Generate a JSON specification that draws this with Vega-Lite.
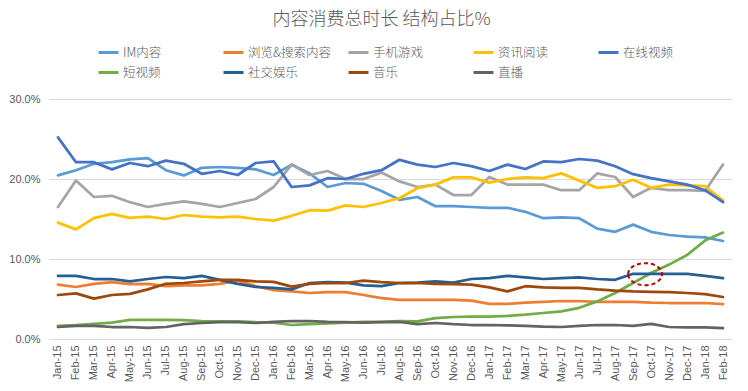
{
"$schema":"https://vega.github.io/schema/vega-lite/v6.json",
"width":683,"height":240,
"autosize":{"type":"none"},
"padding":{"left":49,"top":99,"right":16,"bottom":52},
"background":"white",
"title":{"text":"内容消费总时长 结构占比%","font":"Noto Sans CJK SC","fontSize":18,"fontWeight":300,"color":"#595959","anchor":"middle","frame":"group","offset":12,"dx":-9},
"config":{"view":{"stroke":null},"font":"Noto Sans CJK SC"},
"layer":[
{"data":{"values":[
{"month":"Jan-15","series":"IM内容","value":20.45},{"month":"Feb-15","series":"IM内容","value":21.1},{"month":"Mar-15","series":"IM内容","value":21.9},{"month":"Apr-15","series":"IM内容","value":22.1},{"month":"May-15","series":"IM内容","value":22.45},{"month":"Jun-15","series":"IM内容","value":22.6},{"month":"Jul-15","series":"IM内容","value":21.1},{"month":"Aug-15","series":"IM内容","value":20.45},{"month":"Sep-15","series":"IM内容","value":21.4},{"month":"Oct-15","series":"IM内容","value":21.5},{"month":"Nov-15","series":"IM内容","value":21.4},{"month":"Dec-15","series":"IM内容","value":21.2},{"month":"Jan-16","series":"IM内容","value":20.5},{"month":"Feb-16","series":"IM内容","value":21.8},{"month":"Mar-16","series":"IM内容","value":20.7},{"month":"Apr-16","series":"IM内容","value":19.0},{"month":"May-16","series":"IM内容","value":19.5},{"month":"Jun-16","series":"IM内容","value":19.4},{"month":"Jul-16","series":"IM内容","value":18.5},{"month":"Aug-16","series":"IM内容","value":17.4},{"month":"Sep-16","series":"IM内容","value":17.75},{"month":"Oct-16","series":"IM内容","value":16.6},{"month":"Nov-16","series":"IM内容","value":16.6},{"month":"Dec-16","series":"IM内容","value":16.5},{"month":"Jan-17","series":"IM内容","value":16.4},{"month":"Feb-17","series":"IM内容","value":16.4},{"month":"Mar-17","series":"IM内容","value":15.9},{"month":"Apr-17","series":"IM内容","value":15.1},{"month":"May-17","series":"IM内容","value":15.2},{"month":"Jun-17","series":"IM内容","value":15.1},{"month":"Jul-17","series":"IM内容","value":13.8},{"month":"Aug-17","series":"IM内容","value":13.4},{"month":"Sep-17","series":"IM内容","value":14.3},{"month":"Oct-17","series":"IM内容","value":13.4},{"month":"Nov-17","series":"IM内容","value":13.0},{"month":"Dec-17","series":"IM内容","value":12.8},{"month":"Jan-18","series":"IM内容","value":12.7},{"month":"Feb-18","series":"IM内容","value":12.25},
{"month":"Jan-15","series":"浏览&搜索内容","value":6.8},{"month":"Feb-15","series":"浏览&搜索内容","value":6.5},{"month":"Mar-15","series":"浏览&搜索内容","value":6.9},{"month":"Apr-15","series":"浏览&搜索内容","value":7.1},{"month":"May-15","series":"浏览&搜索内容","value":6.85},{"month":"Jun-15","series":"浏览&搜索内容","value":6.9},{"month":"Jul-15","series":"浏览&搜索内容","value":6.6},{"month":"Aug-15","series":"浏览&搜索内容","value":6.7},{"month":"Sep-15","series":"浏览&搜索内容","value":6.7},{"month":"Oct-15","series":"浏览&搜索内容","value":6.9},{"month":"Nov-15","series":"浏览&搜索内容","value":7.3},{"month":"Dec-15","series":"浏览&搜索内容","value":6.6},{"month":"Jan-16","series":"浏览&搜索内容","value":6.1},{"month":"Feb-16","series":"浏览&搜索内容","value":5.95},{"month":"Mar-16","series":"浏览&搜索内容","value":5.75},{"month":"Apr-16","series":"浏览&搜索内容","value":5.85},{"month":"May-16","series":"浏览&搜索内容","value":5.85},{"month":"Jun-16","series":"浏览&搜索内容","value":5.5},{"month":"Jul-16","series":"浏览&搜索内容","value":5.1},{"month":"Aug-16","series":"浏览&搜索内容","value":4.9},{"month":"Sep-16","series":"浏览&搜索内容","value":4.9},{"month":"Oct-16","series":"浏览&搜索内容","value":4.9},{"month":"Nov-16","series":"浏览&搜索内容","value":4.9},{"month":"Dec-16","series":"浏览&搜索内容","value":4.8},{"month":"Jan-17","series":"浏览&搜索内容","value":4.4},{"month":"Feb-17","series":"浏览&搜索内容","value":4.4},{"month":"Mar-17","series":"浏览&搜索内容","value":4.55},{"month":"Apr-17","series":"浏览&搜索内容","value":4.65},{"month":"May-17","series":"浏览&搜索内容","value":4.75},{"month":"Jun-17","series":"浏览&搜索内容","value":4.75},{"month":"Jul-17","series":"浏览&搜索内容","value":4.65},{"month":"Aug-17","series":"浏览&搜索内容","value":4.65},{"month":"Sep-17","series":"浏览&搜索内容","value":4.65},{"month":"Oct-17","series":"浏览&搜索内容","value":4.55},{"month":"Nov-17","series":"浏览&搜索内容","value":4.5},{"month":"Dec-17","series":"浏览&搜索内容","value":4.5},{"month":"Jan-18","series":"浏览&搜索内容","value":4.5},{"month":"Feb-18","series":"浏览&搜索内容","value":4.35},
{"month":"Jan-15","series":"手机游戏","value":16.5},{"month":"Feb-15","series":"手机游戏","value":19.8},{"month":"Mar-15","series":"手机游戏","value":17.75},{"month":"Apr-15","series":"手机游戏","value":17.9},{"month":"May-15","series":"手机游戏","value":17.1},{"month":"Jun-15","series":"手机游戏","value":16.5},{"month":"Jul-15","series":"手机游戏","value":16.9},{"month":"Aug-15","series":"手机游戏","value":17.2},{"month":"Sep-15","series":"手机游戏","value":16.9},{"month":"Oct-15","series":"手机游戏","value":16.5},{"month":"Nov-15","series":"手机游戏","value":17.0},{"month":"Dec-15","series":"手机游戏","value":17.5},{"month":"Jan-16","series":"手机游戏","value":19.0},{"month":"Feb-16","series":"手机游戏","value":21.8},{"month":"Mar-16","series":"手机游戏","value":20.5},{"month":"Apr-16","series":"手机游戏","value":21.0},{"month":"May-16","series":"手机游戏","value":20.0},{"month":"Jun-16","series":"手机游戏","value":20.0},{"month":"Jul-16","series":"手机游戏","value":20.8},{"month":"Aug-16","series":"手机游戏","value":19.7},{"month":"Sep-16","series":"手机游戏","value":19.0},{"month":"Oct-16","series":"手机游戏","value":19.3},{"month":"Nov-16","series":"手机游戏","value":18.0},{"month":"Dec-16","series":"手机游戏","value":18.0},{"month":"Jan-17","series":"手机游戏","value":20.25},{"month":"Feb-17","series":"手机游戏","value":19.3},{"month":"Mar-17","series":"手机游戏","value":19.3},{"month":"Apr-17","series":"手机游戏","value":19.3},{"month":"May-17","series":"手机游戏","value":18.6},{"month":"Jun-17","series":"手机游戏","value":18.6},{"month":"Jul-17","series":"手机游戏","value":20.7},{"month":"Aug-17","series":"手机游戏","value":20.25},{"month":"Sep-17","series":"手机游戏","value":17.75},{"month":"Oct-17","series":"手机游戏","value":18.9},{"month":"Nov-17","series":"手机游戏","value":18.6},{"month":"Dec-17","series":"手机游戏","value":18.6},{"month":"Jan-18","series":"手机游戏","value":18.5},{"month":"Feb-18","series":"手机游戏","value":21.8},
{"month":"Jan-15","series":"资讯阅读","value":14.55},{"month":"Feb-15","series":"资讯阅读","value":13.7},{"month":"Mar-15","series":"资讯阅读","value":15.1},{"month":"Apr-15","series":"资讯阅读","value":15.65},{"month":"May-15","series":"资讯阅读","value":15.15},{"month":"Jun-15","series":"资讯阅读","value":15.3},{"month":"Jul-15","series":"资讯阅读","value":15.0},{"month":"Aug-15","series":"资讯阅读","value":15.5},{"month":"Sep-15","series":"资讯阅读","value":15.3},{"month":"Oct-15","series":"资讯阅读","value":15.2},{"month":"Nov-15","series":"资讯阅读","value":15.3},{"month":"Dec-15","series":"资讯阅读","value":15.0},{"month":"Jan-16","series":"资讯阅读","value":14.8},{"month":"Feb-16","series":"资讯阅读","value":15.4},{"month":"Mar-16","series":"资讯阅读","value":16.1},{"month":"Apr-16","series":"资讯阅读","value":16.05},{"month":"May-16","series":"资讯阅读","value":16.7},{"month":"Jun-16","series":"资讯阅读","value":16.5},{"month":"Jul-16","series":"资讯阅读","value":17.0},{"month":"Aug-16","series":"资讯阅读","value":17.6},{"month":"Sep-16","series":"资讯阅读","value":18.85},{"month":"Oct-16","series":"资讯阅读","value":19.3},{"month":"Nov-16","series":"资讯阅读","value":20.2},{"month":"Dec-16","series":"资讯阅读","value":20.2},{"month":"Jan-17","series":"资讯阅读","value":19.55},{"month":"Feb-17","series":"资讯阅读","value":20.0},{"month":"Mar-17","series":"资讯阅读","value":20.2},{"month":"Apr-17","series":"资讯阅读","value":20.1},{"month":"May-17","series":"资讯阅读","value":20.7},{"month":"Jun-17","series":"资讯阅读","value":19.8},{"month":"Jul-17","series":"资讯阅读","value":18.9},{"month":"Aug-17","series":"资讯阅读","value":19.1},{"month":"Sep-17","series":"资讯阅读","value":19.9},{"month":"Oct-17","series":"资讯阅读","value":18.9},{"month":"Nov-17","series":"资讯阅读","value":19.3},{"month":"Dec-17","series":"资讯阅读","value":19.2},{"month":"Jan-18","series":"资讯阅读","value":19.1},{"month":"Feb-18","series":"资讯阅读","value":17.3},
{"month":"Jan-15","series":"在线视频","value":25.2},{"month":"Feb-15","series":"在线视频","value":22.1},{"month":"Mar-15","series":"在线视频","value":22.1},{"month":"Apr-15","series":"在线视频","value":21.2},{"month":"May-15","series":"在线视频","value":22.0},{"month":"Jun-15","series":"在线视频","value":21.6},{"month":"Jul-15","series":"在线视频","value":22.3},{"month":"Aug-15","series":"在线视频","value":21.9},{"month":"Sep-15","series":"在线视频","value":20.65},{"month":"Oct-15","series":"在线视频","value":21.0},{"month":"Nov-15","series":"在线视频","value":20.5},{"month":"Dec-15","series":"在线视频","value":22.0},{"month":"Jan-16","series":"在线视频","value":22.2},{"month":"Feb-16","series":"在线视频","value":19.0},{"month":"Mar-16","series":"在线视频","value":19.2},{"month":"Apr-16","series":"在线视频","value":20.1},{"month":"May-16","series":"在线视频","value":20.0},{"month":"Jun-16","series":"在线视频","value":20.65},{"month":"Jul-16","series":"在线视频","value":21.1},{"month":"Aug-16","series":"在线视频","value":22.4},{"month":"Sep-16","series":"在线视频","value":21.8},{"month":"Oct-16","series":"在线视频","value":21.5},{"month":"Nov-16","series":"在线视频","value":22.0},{"month":"Dec-16","series":"在线视频","value":21.6},{"month":"Jan-17","series":"在线视频","value":21.0},{"month":"Feb-17","series":"在线视频","value":21.8},{"month":"Mar-17","series":"在线视频","value":21.25},{"month":"Apr-17","series":"在线视频","value":22.2},{"month":"May-17","series":"在线视频","value":22.1},{"month":"Jun-17","series":"在线视频","value":22.5},{"month":"Jul-17","series":"在线视频","value":22.3},{"month":"Aug-17","series":"在线视频","value":21.6},{"month":"Sep-17","series":"在线视频","value":20.6},{"month":"Oct-17","series":"在线视频","value":20.1},{"month":"Nov-17","series":"在线视频","value":19.7},{"month":"Dec-17","series":"在线视频","value":19.3},{"month":"Jan-18","series":"在线视频","value":18.6},{"month":"Feb-18","series":"在线视频","value":17.1},
{"month":"Jan-15","series":"短视频","value":1.65},{"month":"Feb-15","series":"短视频","value":1.75},{"month":"Mar-15","series":"短视频","value":1.9},{"month":"Apr-15","series":"短视频","value":2.05},{"month":"May-15","series":"短视频","value":2.4},{"month":"Jun-15","series":"短视频","value":2.4},{"month":"Jul-15","series":"短视频","value":2.4},{"month":"Aug-15","series":"短视频","value":2.35},{"month":"Sep-15","series":"短视频","value":2.25},{"month":"Oct-15","series":"短视频","value":2.2},{"month":"Nov-15","series":"短视频","value":2.2},{"month":"Dec-15","series":"短视频","value":2.1},{"month":"Jan-16","series":"短视频","value":2.05},{"month":"Feb-16","series":"短视频","value":1.75},{"month":"Mar-16","series":"短视频","value":1.85},{"month":"Apr-16","series":"短视频","value":1.95},{"month":"May-16","series":"短视频","value":2.05},{"month":"Jun-16","series":"短视频","value":2.15},{"month":"Jul-16","series":"短视频","value":2.15},{"month":"Aug-16","series":"短视频","value":2.25},{"month":"Sep-16","series":"短视频","value":2.2},{"month":"Oct-16","series":"短视频","value":2.6},{"month":"Nov-16","series":"短视频","value":2.75},{"month":"Dec-16","series":"短视频","value":2.8},{"month":"Jan-17","series":"短视频","value":2.8},{"month":"Feb-17","series":"短视频","value":2.9},{"month":"Mar-17","series":"短视频","value":3.05},{"month":"Apr-17","series":"短视频","value":3.25},{"month":"May-17","series":"短视频","value":3.45},{"month":"Jun-17","series":"短视频","value":3.9},{"month":"Jul-17","series":"短视频","value":4.7},{"month":"Aug-17","series":"短视频","value":5.75},{"month":"Sep-17","series":"短视频","value":7.0},{"month":"Oct-17","series":"短视频","value":8.25},{"month":"Nov-17","series":"短视频","value":9.3},{"month":"Dec-17","series":"短视频","value":10.5},{"month":"Jan-18","series":"短视频","value":12.3},{"month":"Feb-18","series":"短视频","value":13.3},
{"month":"Jan-15","series":"社交娱乐","value":7.9},{"month":"Feb-15","series":"社交娱乐","value":7.9},{"month":"Mar-15","series":"社交娱乐","value":7.5},{"month":"Apr-15","series":"社交娱乐","value":7.5},{"month":"May-15","series":"社交娱乐","value":7.2},{"month":"Jun-15","series":"社交娱乐","value":7.5},{"month":"Jul-15","series":"社交娱乐","value":7.75},{"month":"Aug-15","series":"社交娱乐","value":7.6},{"month":"Sep-15","series":"社交娱乐","value":7.9},{"month":"Oct-15","series":"社交娱乐","value":7.4},{"month":"Nov-15","series":"社交娱乐","value":6.9},{"month":"Dec-15","series":"社交娱乐","value":6.5},{"month":"Jan-16","series":"社交娱乐","value":6.4},{"month":"Feb-16","series":"社交娱乐","value":6.2},{"month":"Mar-16","series":"社交娱乐","value":7.0},{"month":"Apr-16","series":"社交娱乐","value":7.1},{"month":"May-16","series":"社交娱乐","value":7.05},{"month":"Jun-16","series":"社交娱乐","value":6.7},{"month":"Jul-16","series":"社交娱乐","value":6.6},{"month":"Aug-16","series":"社交娱乐","value":7.0},{"month":"Sep-16","series":"社交娱乐","value":7.05},{"month":"Oct-16","series":"社交娱乐","value":7.2},{"month":"Nov-16","series":"社交娱乐","value":7.05},{"month":"Dec-16","series":"社交娱乐","value":7.5},{"month":"Jan-17","series":"社交娱乐","value":7.6},{"month":"Feb-17","series":"社交娱乐","value":7.9},{"month":"Mar-17","series":"社交娱乐","value":7.7},{"month":"Apr-17","series":"社交娱乐","value":7.5},{"month":"May-17","series":"社交娱乐","value":7.6},{"month":"Jun-17","series":"社交娱乐","value":7.7},{"month":"Jul-17","series":"社交娱乐","value":7.5},{"month":"Aug-17","series":"社交娱乐","value":7.4},{"month":"Sep-17","series":"社交娱乐","value":8.15},{"month":"Oct-17","series":"社交娱乐","value":8.15},{"month":"Nov-17","series":"社交娱乐","value":8.15},{"month":"Dec-17","series":"社交娱乐","value":8.15},{"month":"Jan-18","series":"社交娱乐","value":7.9},{"month":"Feb-18","series":"社交娱乐","value":7.6},
{"month":"Jan-15","series":"音乐","value":5.5},{"month":"Feb-15","series":"音乐","value":5.7},{"month":"Mar-15","series":"音乐","value":5.05},{"month":"Apr-15","series":"音乐","value":5.5},{"month":"May-15","series":"音乐","value":5.65},{"month":"Jun-15","series":"音乐","value":6.2},{"month":"Jul-15","series":"音乐","value":6.9},{"month":"Aug-15","series":"音乐","value":7.0},{"month":"Sep-15","series":"音乐","value":7.2},{"month":"Oct-15","series":"音乐","value":7.4},{"month":"Nov-15","series":"音乐","value":7.4},{"month":"Dec-15","series":"音乐","value":7.2},{"month":"Jan-16","series":"音乐","value":7.15},{"month":"Feb-16","series":"音乐","value":6.55},{"month":"Mar-16","series":"音乐","value":6.9},{"month":"Apr-16","series":"音乐","value":7.0},{"month":"May-16","series":"音乐","value":7.0},{"month":"Jun-16","series":"音乐","value":7.3},{"month":"Jul-16","series":"音乐","value":7.1},{"month":"Aug-16","series":"音乐","value":7.0},{"month":"Sep-16","series":"音乐","value":7.0},{"month":"Oct-16","series":"音乐","value":6.9},{"month":"Nov-16","series":"音乐","value":6.85},{"month":"Dec-16","series":"音乐","value":6.8},{"month":"Jan-17","series":"音乐","value":6.45},{"month":"Feb-17","series":"音乐","value":5.95},{"month":"Mar-17","series":"音乐","value":6.6},{"month":"Apr-17","series":"音乐","value":6.45},{"month":"May-17","series":"音乐","value":6.4},{"month":"Jun-17","series":"音乐","value":6.4},{"month":"Jul-17","series":"音乐","value":6.2},{"month":"Aug-17","series":"音乐","value":6.05},{"month":"Sep-17","series":"音乐","value":5.95},{"month":"Oct-17","series":"音乐","value":5.9},{"month":"Nov-17","series":"音乐","value":5.85},{"month":"Dec-17","series":"音乐","value":5.75},{"month":"Jan-18","series":"音乐","value":5.6},{"month":"Feb-18","series":"音乐","value":5.25},
{"month":"Jan-15","series":"直播","value":1.5},{"month":"Feb-15","series":"直播","value":1.65},{"month":"Mar-15","series":"直播","value":1.65},{"month":"Apr-15","series":"直播","value":1.5},{"month":"May-15","series":"直播","value":1.5},{"month":"Jun-15","series":"直播","value":1.4},{"month":"Jul-15","series":"直播","value":1.5},{"month":"Aug-15","series":"直播","value":1.85},{"month":"Sep-15","series":"直播","value":2.0},{"month":"Oct-15","series":"直播","value":2.1},{"month":"Nov-15","series":"直播","value":2.1},{"month":"Dec-15","series":"直播","value":2.0},{"month":"Jan-16","series":"直播","value":2.15},{"month":"Feb-16","series":"直播","value":2.25},{"month":"Mar-16","series":"直播","value":2.25},{"month":"Apr-16","series":"直播","value":2.15},{"month":"May-16","series":"直播","value":2.1},{"month":"Jun-16","series":"直播","value":2.05},{"month":"Jul-16","series":"直播","value":2.1},{"month":"Aug-16","series":"直播","value":2.15},{"month":"Sep-16","series":"直播","value":1.85},{"month":"Oct-16","series":"直播","value":2.0},{"month":"Nov-16","series":"直播","value":1.85},{"month":"Dec-16","series":"直播","value":1.75},{"month":"Jan-17","series":"直播","value":1.75},{"month":"Feb-17","series":"直播","value":1.7},{"month":"Mar-17","series":"直播","value":1.65},{"month":"Apr-17","series":"直播","value":1.55},{"month":"May-17","series":"直播","value":1.5},{"month":"Jun-17","series":"直播","value":1.65},{"month":"Jul-17","series":"直播","value":1.75},{"month":"Aug-17","series":"直播","value":1.75},{"month":"Sep-17","series":"直播","value":1.65},{"month":"Oct-17","series":"直播","value":1.9},{"month":"Nov-17","series":"直播","value":1.5},{"month":"Dec-17","series":"直播","value":1.45},{"month":"Jan-18","series":"直播","value":1.45},{"month":"Feb-18","series":"直播","value":1.35}
]},
"mark":{"type":"line","strokeWidth":2.75,"strokeJoin":"round","strokeCap":"round"},
"encoding":{
"x":{"field":"month","type":"ordinal","sort":null,"scale":{"type":"point","padding":0.5},"axis":{"title":null,"labelAngle":-90,"labelFont":"Liberation Sans","labelFontSize":11,"labelColor":"#595959","ticks":false,"domainColor":"#D9D9D9","domainWidth":1,"grid":false,"labelPadding":6}},
"y":{"field":"value","type":"quantitative","scale":{"domain":[0,30]},"axis":{"title":null,"values":[0,5,10,15,20,25,30],"labelExpr":"format(datum.value, '.1f') + '%'","domain":false,"ticks":false,"grid":true,"gridColor":"#D9D9D9","labelFont":"Liberation Sans","labelFontSize":11,"labelColor":"#595959","labelPadding":9}},
"color":{"field":"series","type":"nominal","scale":{"domain":["IM内容","浏览&搜索内容","手机游戏","资讯阅读","在线视频","短视频","社交娱乐","音乐","直播"],"range":["#5B9BD5","#ED7D31","#A5A5A5","#FFC000","#4472C4","#70AD47","#255E91","#9E480E","#636363"]},
"legend":{"title":null,"orient":"none","legendX":48,"legendY":-58,"columns":5,"direction":"horizontal","symbolType":"stroke","symbolStrokeWidth":3,"symbolSize":400,"labelFont":"Noto Sans CJK SC","labelFontSize":12.5,"labelFontWeight":300,"labelColor":"#595959","gridAlign":"all","columnPadding":10,"rowPadding":2,"labelLimit":200,"padding":0,"labelOffset":3}}
}},
{"data":{"values":[{"month":"Oct-17","value":8.1}]},
"mark":{"type":"point","shape":"M-1,0A1,0.65,0,1,1,1,0A1,0.65,0,1,1,-1,0Z","size":1156,"stroke":"#C00000","strokeWidth":2,"strokeDash":[4,3],"filled":false,"opacity":1,"xOffset":-6},
"encoding":{"x":{"field":"month","type":"ordinal","sort":null},"y":{"field":"value","type":"quantitative"}}}
]
}
